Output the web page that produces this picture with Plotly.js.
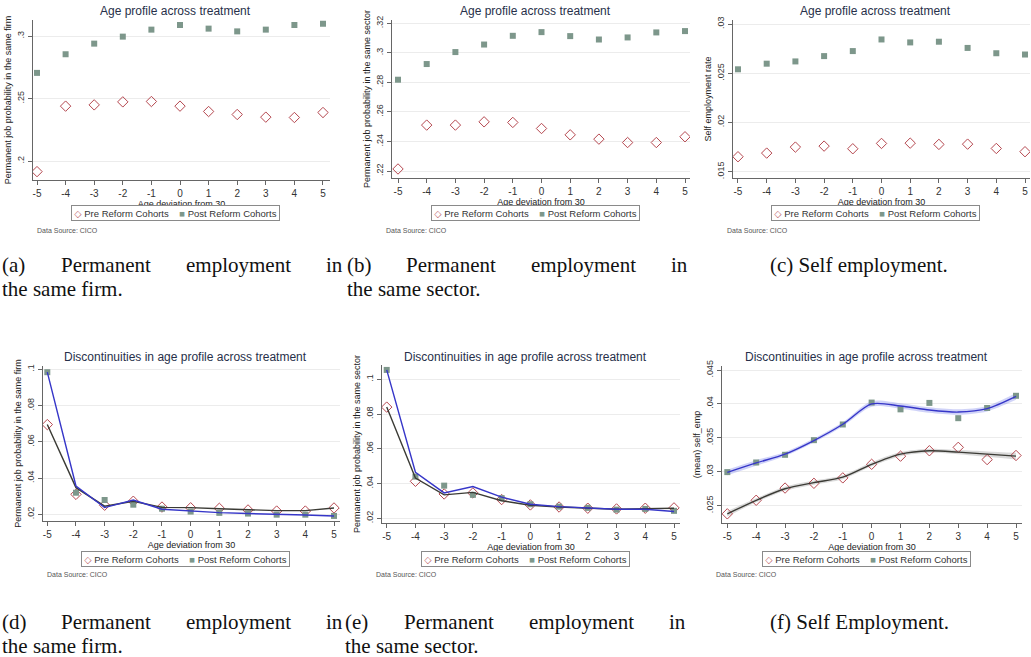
<!DOCTYPE html>
<html>
<head>
<meta charset="utf-8">
<script src="https://cdn.plot.ly/plotly-3.0.1.min.js"></script>
<style>html,body{margin:0;padding:0;background:#fff;}#chart{width:1031px;height:657px;}</style>
</head>
<body>
<div id="chart"></div>
<script>
// ---------------- data ----------------
const ages = [-5, -4, -3, -2, -1, 0, 1, 2, 3, 4, 5];

// (a) permanent job in same firm
const aPre  = [0.1915, 0.2439, 0.2449, 0.2473, 0.2476, 0.2439, 0.2396, 0.2372, 0.2351, 0.2348, 0.2388];
const aPost = [0.2705, 0.2854, 0.2939, 0.2995, 0.3051, 0.3088, 0.3059, 0.3037, 0.3051, 0.3088, 0.3098];
// (b) permanent job in same sector
const bPre  = [0.2214, 0.2511, 0.2511, 0.2533, 0.2529, 0.2488, 0.2445, 0.2416, 0.2393, 0.2393, 0.2432];
const bPost = [0.2818, 0.2924, 0.3005, 0.3056, 0.3115, 0.3140, 0.3113, 0.3090, 0.3104, 0.3138, 0.3147];
// (c) self employment
const cPre  = [0.01652, 0.01689, 0.01750, 0.01760, 0.01733, 0.01787, 0.01790, 0.01777, 0.01780, 0.01736, 0.01703];
const cPost = [0.02540, 0.02597, 0.02620, 0.02674, 0.02725, 0.02843, 0.02813, 0.02820, 0.02757, 0.02703, 0.02690];
// (d) discontinuities, same firm
const dPre     = [0.0695, 0.0310, 0.0250, 0.0272, 0.0240, 0.0236, 0.0233, 0.0224, 0.0218, 0.0218, 0.0235];
const dPost    = [0.0984, 0.0319, 0.0279, 0.0253, 0.0231, 0.0215, 0.0208, 0.0204, 0.0198, 0.0198, 0.0191];
const dPreFit  = [0.0695, 0.0347, 0.0245, 0.0272, 0.0238, 0.0237, 0.0231, 0.0226, 0.0220, 0.0220, 0.0235];
const dPostFit = [0.0984, 0.0356, 0.0237, 0.0279, 0.0228, 0.0217, 0.0209, 0.0204, 0.0198, 0.0196, 0.0191];
// (e) discontinuities, same sector
const ePre     = [0.0840, 0.0413, 0.0340, 0.0346, 0.0308, 0.0277, 0.0265, 0.0258, 0.0254, 0.0258, 0.0260];
const ePost    = [0.1054, 0.0440, 0.0388, 0.0335, 0.0316, 0.0281, 0.0267, 0.0260, 0.0250, 0.0254, 0.0243];
const ePreFit  = [0.0840, 0.0432, 0.0335, 0.0349, 0.0301, 0.0275, 0.0265, 0.0258, 0.0252, 0.0256, 0.0258];
const ePostFit = [0.1054, 0.0465, 0.0346, 0.0383, 0.0322, 0.0281, 0.0267, 0.0260, 0.0252, 0.0252, 0.0239];
// (f) discontinuities, self employment (means, smoothed fits and bands)
const fPre     = [0.0238, 0.0258, 0.0276, 0.0283, 0.0291, 0.0311, 0.0323, 0.0331, 0.0336, 0.0318, 0.0324];
const fPost    = [0.02995, 0.03137, 0.0325, 0.03466, 0.03697, 0.0402, 0.0392, 0.04015, 0.0379, 0.0394, 0.0412];
const fPreFit  = [0.0238, 0.0258, 0.0275, 0.0284, 0.0292, 0.0311, 0.0326, 0.0331, 0.0329, 0.0326, 0.0323];
const fPreHi   = [0.0242, 0.0261, 0.0278, 0.0287, 0.0295, 0.0314, 0.0329, 0.0334, 0.0332, 0.0330, 0.0328];
const fPreLo   = [0.0234, 0.0255, 0.0272, 0.0281, 0.0289, 0.0308, 0.0323, 0.0328, 0.0326, 0.0322, 0.0318];
const fPostFit = [0.0299, 0.0313, 0.0326, 0.0346, 0.0370, 0.0400, 0.0397, 0.0391, 0.0388, 0.0393, 0.0411];
const fPostHi  = [0.0303, 0.0317, 0.0329, 0.0349, 0.0373, 0.0404, 0.0401, 0.0395, 0.0392, 0.0397, 0.0416];
const fPostLo  = [0.0295, 0.0309, 0.0323, 0.0343, 0.0367, 0.0396, 0.0393, 0.0387, 0.0384, 0.0389, 0.0406];

// tick labels
const xTickVals = [-5, -4, -3, -2, -1, 0, 1, 2, 3, 4, 5];
const xTickText = ["-5", "-4", "-3", "-2", "-1", "0", "1", "2", "3", "4", "5"];
const aTickVals = [0.2, 0.25, 0.3];           const aTickText = [".2", ".25", ".3"];
const bTickVals = [0.22, 0.24, 0.26, 0.28, 0.3, 0.32]; const bTickText = [".22", ".24", ".26", ".28", ".3", ".32"];
const cTickVals = [0.015, 0.02, 0.025, 0.03]; const cTickText = [".015", ".02", ".025", ".03"];
const dTickVals = [0.02, 0.04, 0.06, 0.08, 0.1]; const dTickText = [".02", ".04", ".06", ".08", ".1"];
const eTickVals = [0.02, 0.04, 0.06, 0.08, 0.1]; const eTickText = [".02", ".04", ".06", ".08", ".1"];
const fTickVals = [0.025, 0.03, 0.035, 0.04, 0.045]; const fTickText = [".025", ".03", ".035", ".04", ".045"];

const preName = "Pre Reform Cohorts";
const postName = "Post Reform Cohorts";
const xTitle = "Age deviation from 30";
const topTitle = "Age profile across treatment";
const botTitle = "Discontinuities in age profile across treatment";
const yTitles = ["Permanent job probability in the same firm",
                 "Permanent job probability in the same sector",
                 "Self employment rate",
                 "Permanent job probability in the same firm",
                 "Permanent job probability in the same sector",
                 "(mean) self_emp"];
const captionWords = [
  ["(a)", "Permanent", "employment", "in"],
  ["(b)", "Permanent", "employment", "in"],
  ["(c) Self employment."],
  ["(d)", "Permanent", "employment", "in"],
  ["(e)", "Permanent", "employment", "in"],
  ["(f) Self Employment."]
];
const captionLine2 = ["the same firm.", "the same sector.", "", "the same firm.", "the same sector.", ""];
const dataSource = "Data Source: CICO";

// ---------------- styling ----------------
const W = 1031, H = 657;
const PRE_COL = "#b5474f", POST_COL = "#7d978b";
const PRE_LINE = "#3b3b35", POST_LINE = "#3636c8";
const TITLE_COL = "#27304a";
const SERIF = "Liberation Serif, Times New Roman, serif";
const fx = p => p / W;
const fy = p => 1 - p / H;

// panel geometry: [xLeft, xRight, yTop, yBottom] in px, plus ranges
const panels = [
  {dom: [33, 330, 20, 180],  xr: [-5.14, 5.245],  yr: [0.1848, 0.3128],  tv: aTickVals, tt: aTickText},
  {dom: [392, 690, 20, 178], xr: [-5.209, 5.174], yr: [0.2153, 0.3222],  tv: bTickVals, tt: bTickText},
  {dom: [733, 1030, 20, 178], xr: [-5.174, 5.174], yr: [0.01436, 0.030406], tv: cTickVals, tt: cTickText},
  {dom: [43, 340, 366, 521], xr: [-5.15, 5.209],  yr: [0.0163, 0.10182], tv: dTickVals, tt: dTickText},
  {dom: [382, 680, 365, 523], xr: [-5.164, 5.209], yr: [0.0173, 0.10823], tv: eTickVals, tt: eTickText},
  {dom: [722, 1022, 366, 523], xr: [-5.184, 5.208], yr: [0.02245, 0.04559], tv: fTickVals, tt: fTickText}
];

const layout = {
  width: W, height: H,
  margin: {l: 0, r: 0, t: 0, b: 0},
  paper_bgcolor: "#ffffff",
  plot_bgcolor: "#ffffff",
  showlegend: false,
  font: {family: "Liberation Sans, Arial, sans-serif", color: "#333", size: 10},
  annotations: [],
  shapes: []
};

panels.forEach((p, i) => {
  const n = i === 0 ? "" : String(i + 1);
  layout["xaxis" + n] = {
    domain: [fx(p.dom[0]), fx(p.dom[1])],
    range: p.xr,
    anchor: "y" + n,
    tickmode: "array", tickvals: xTickVals, ticktext: xTickText,
    ticks: "outside", ticklen: 4, tickcolor: "#666", tickwidth: 1,
    showline: true, linecolor: "#666", linewidth: 1,
    showgrid: false, zeroline: false,
    tickfont: {size: 10, color: "#333"},
    title: {text: xTitle, font: {size: 9, color: "#222"}, standoff: 1},
    fixedrange: true
  };
  layout["yaxis" + n] = {
    domain: [fy(p.dom[3]), fy(p.dom[2])],
    range: p.yr,
    anchor: "x" + n,
    tickmode: "array", tickvals: p.tv, ticktext: p.tt,
    tickangle: -90,
    ticks: "outside", ticklen: 4, tickcolor: "#666", tickwidth: 1,
    showline: true, linecolor: "#666", linewidth: 1,
    showgrid: true, gridcolor: "#ececec", gridwidth: 1,
    zeroline: false,
    tickfont: {size: 9, color: "#333"},
    title: {text: yTitles[i], font: {size: 9, color: "#222"}, standoff: 3},
    fixedrange: true
  };
  // panel title
  const cx = (p.dom[0] + p.dom[1]) / 2 - 6;
  layout.annotations.push({
    xref: "paper", yref: "paper", x: fx(cx), y: fy(i < 3 ? 11 : 357),
    text: i < 3 ? topTitle : botTitle, showarrow: false,
    xanchor: "center", yanchor: "middle",
    font: {size: 12, color: TITLE_COL}
  });
  // legend box
  const ly = i < 3 ? 213 : 559;
  layout.annotations.push({
    xref: "paper", yref: "paper", x: fx(cx), y: fy(ly),
    text: '<span style="color:' + PRE_COL + ';font-family:DejaVu Sans">\u25C7</span>\u00a0' + preName +
          '\u00a0\u00a0\u00a0\u00a0<span style="color:' + POST_COL + '">\u25A0</span>\u00a0' + postName,
    showarrow: false, xanchor: "center", yanchor: "middle",
    font: {size: 9.5, color: "#333"},
    bordercolor: "#8a8a8a", borderwidth: 1, borderpad: 1.5, bgcolor: "#fff",
    width: 204, align: "center"
  });
  // data source
  layout.annotations.push({
    xref: "paper", yref: "paper", x: fx(p.dom[0] + (i % 3 === 0 ? 2 : -8)), y: fy(i < 3 ? 231 : 574),
    text: dataSource, showarrow: false, xanchor: "left", yanchor: "middle",
    font: {size: 7, color: "#555"}
  });
});

// captions: justified first lines (word start positions in px), second lines left aligned
const capFont = {family: SERIF, size: 21, color: "#111"};
const capWordX = [
  [0, 58.5, 183.5, 323.7],
  [345, 404.3, 528.9, 668.7],
  [768],
  [0, 59.3, 183.9, 323.7],
  [343, 401.5, 526.5, 666.7],
  [768]
];
const capLine1Y = [265, 265, 265, 622, 622, 622];
const capLine2X = [0, 345, 0, 0, 343, 0];
captionWords.forEach((words, i) => {
  words.forEach((w, j) => {
    layout.annotations.push({
      xref: "paper", yref: "paper", x: fx(capWordX[i][j]), y: fy(capLine1Y[i]),
      text: w, showarrow: false, xanchor: "left", yanchor: "middle", font: capFont
    });
  });
  if (captionLine2[i]) {
    layout.annotations.push({
      xref: "paper", yref: "paper", x: fx(capLine2X[i]), y: fy(capLine1Y[i] + 24),
      text: captionLine2[i], showarrow: false, xanchor: "left", yanchor: "middle", font: capFont
    });
  }
});

// ---------------- traces ----------------
const traces = [];
function markerTraces(ax, pre, post) {
  traces.push({x: ages, y: pre, xaxis: "x" + ax, yaxis: "y" + ax, type: "scatter", mode: "markers",
    name: preName, marker: {symbol: "diamond-open", size: 8, color: PRE_COL, line: {width: 1, color: PRE_COL}}});
  traces.push({x: ages, y: post, xaxis: "x" + ax, yaxis: "y" + ax, type: "scatter", mode: "markers",
    name: postName, marker: {symbol: "square", size: 6, color: POST_COL}});
}
function fitTrace(ax, y, col, shape) {
  traces.push({x: ages, y: y, xaxis: "x" + ax, yaxis: "y" + ax, type: "scatter", mode: "lines",
    line: {color: col, width: 1.4, shape: shape || "linear", smoothing: 0.8}, hoverinfo: "skip"});
}
function bandTrace(ax, lo, hi, col) {
  traces.push({x: ages, y: lo, xaxis: "x" + ax, yaxis: "y" + ax, type: "scatter", mode: "lines",
    line: {width: 0, shape: "spline", smoothing: 0.8}, hoverinfo: "skip"});
  traces.push({x: ages, y: hi, xaxis: "x" + ax, yaxis: "y" + ax, type: "scatter", mode: "lines",
    fill: "tonexty", fillcolor: col, line: {width: 0, shape: "spline", smoothing: 0.8}, hoverinfo: "skip"});
}

markerTraces("", aPre, aPost);
markerTraces("2", bPre, bPost);
markerTraces("3", cPre, cPost);

markerTraces("4", dPre, dPost);
fitTrace("4", dPreFit, PRE_LINE);
fitTrace("4", dPostFit, POST_LINE);

markerTraces("5", ePre, ePost);
fitTrace("5", ePreFit, PRE_LINE);
fitTrace("5", ePostFit, POST_LINE);

bandTrace("6", fPreLo, fPreHi, "rgba(150,150,150,0.35)");
bandTrace("6", fPostLo, fPostHi, "rgba(120,130,235,0.35)");
markerTraces("6", fPre, fPost);
fitTrace("6", fPreFit, PRE_LINE, "spline");
fitTrace("6", fPostFit, POST_LINE, "spline");

Plotly.newPlot("chart", traces, layout, {staticPlot: true, displayModeBar: false});
</script>
</body>
</html>
